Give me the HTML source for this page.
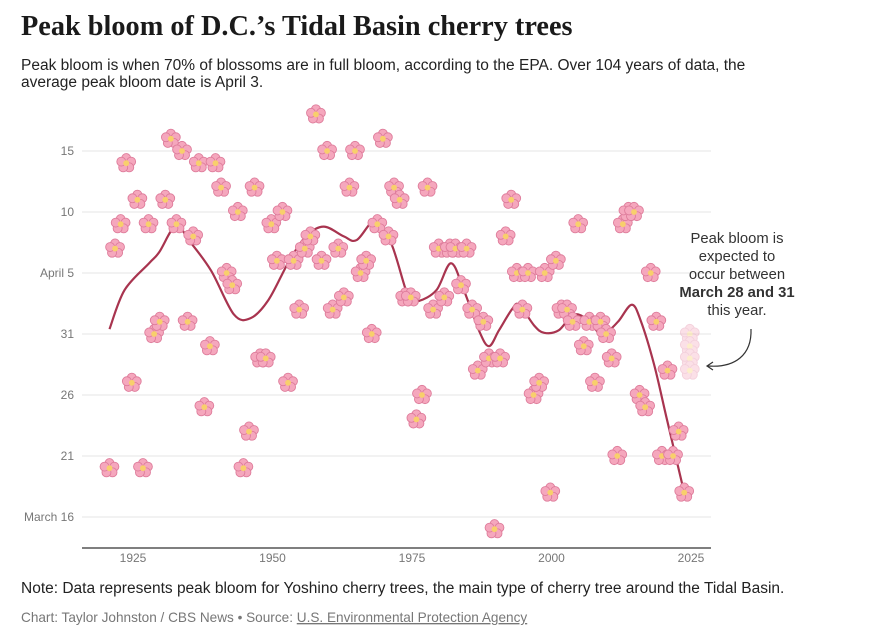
<!DOCTYPE html>
<html><head><meta charset="utf-8">
<style>
body{margin:0;background:#fff;width:875px;height:638px;overflow:hidden;font-family:"Liberation Sans",sans-serif;}
svg text{font-family:"Liberation Sans",sans-serif;}
</style></head>
<body>
<svg id="chart" width="875" height="638" viewBox="0 0 875 638">
<defs>
<g id="flower" transform="scale(1.12)">
<circle cx="0" cy="-4.6" r="4" fill="#f5a7bd" stroke="#de7c9b" stroke-width="0.8"/>
<circle cx="4.4" cy="-1.4" r="4" fill="#f5a7bd" stroke="#de7c9b" stroke-width="0.8"/>
<circle cx="2.7" cy="3.7" r="4" fill="#f5a7bd" stroke="#de7c9b" stroke-width="0.8"/>
<circle cx="-2.7" cy="3.7" r="4" fill="#f5a7bd" stroke="#de7c9b" stroke-width="0.8"/>
<circle cx="-4.4" cy="-1.4" r="4" fill="#f5a7bd" stroke="#de7c9b" stroke-width="0.8"/>
<circle cx="0" cy="0" r="2.6" fill="#f8cf6c"/>
</g>
</defs>
<text x="21" y="35" font-weight="bold" font-size="28.3" fill="#1a1a1a" style="font-family:'Liberation Serif',serif">Peak bloom of D.C.’s Tidal Basin cherry trees</text>
<text x="21" y="70" font-size="15.5" fill="#222">Peak bloom is when 70% of blossoms are in full bloom, according to the EPA. Over 104 years of data, the</text>
<text x="21" y="87" font-size="15.5" fill="#222">average peak bloom date is April 3.</text>
<g id="grid"></g>
<g id="yticks"></g>
<g id="xticks"></g>
<path id="trend" fill="none" stroke="#a8344f" stroke-width="2.2"/>
<g id="points"></g>
<g id="forecast" opacity="0.35"></g>
<g font-size="14.8" fill="#333" text-anchor="middle">
<text x="737" y="243">Peak bloom is</text>
<text x="737" y="261">expected to</text>
<text x="737" y="279">occur between</text>
<text x="737" y="297" font-weight="bold">March 28 and 31</text>
<text x="737" y="315">this year.</text>
</g>
<path d="M751,329 C752,355 735,368 708,366" fill="none" stroke="#333" stroke-width="1.2"/>
<path d="M713,362 L707,366 L713,370" fill="none" stroke="#333" stroke-width="1.2"/>
<text x="21" y="593" font-size="15.5" fill="#222">Note: Data represents peak bloom for Yoshino cherry trees, the main type of cherry tree around the Tidal Basin.</text>
<text x="21" y="622" font-size="13.6" fill="#777">Chart: Taylor Johnston / CBS News • Source: <tspan text-decoration="underline">U.S. Environmental Protection Agency</tspan></text>
</svg>
<script>
const bloomDays = [-12,6,8,13,-5,10,-12,8,-1,0,10,15,8,14,0,7,13,-7,-2,13,11,4,3,9,-12,-9,11,-3,-3,8,5,9,-5,5,1,6,7,17,5,14,1,6,2,11,14,4,5,-1,8,15,7,11,10,2,2,-8,-6,11,1,6,2,6,6,3,6,1,-4,0,-3,-17,-3,7,10,4,1,4,-6,-5,4,-14,5,1,1,0,8,-2,0,-5,0,-1,-3,-11,8,9,9,-6,-7,4,0,-11,-4,-11,-9,-14];
const firstYear = 1921;
const trendYears = [1921,1923.7,1928.1,1929.9,1932.9,1935.2,1939.2,1943.3,1946.3,1949.5,1953.1,1956.2,1959.4,1963.0,1965.3,1968.7,1971.6,1974.6,1976.4,1979.6,1982.2,1984.5,1987.2,1989.0,1990.8,1993.1,1994.4,1997.1,1998.9,2001.5,2004.2,2006.9,2008.7,2010.5,2012.3,2014.6,2016.2,2018.6,2020.9,2024];
const trendDays = [-0.6,2.6,4.8,5.7,7.9,6.7,4.2,0.6,0.3,1.8,4.9,7.0,7.8,7.0,6.7,8.3,6.3,2.0,1.7,2.6,4.8,2.6,-0.7,-2.0,-0.7,1.0,1.4,-0.3,-0.9,-0.7,0.6,0.1,-0.9,-0.7,0.1,1.4,0.1,-3.5,-8.0,-14.0];
const forecastYear = 2025;
const forecastDays = [-1,-2,-3,-4];
const yTickDays = [14,9,4,-1,-6,-11,-16];
const yTickLabels = ["15","10","April 5","31","26","21","March 16"];
const xTicks = [1925,1950,1975,2000,2025];

const NS = "http://www.w3.org/2000/svg";
const xS = yr => 133 + (yr - 1925) * 5.58 - 1.2;
const yS = d => 334 - (d + 1) * 12.2;
const tickX = yr => 133 + (yr - 1925) * 5.58;

const grid = document.getElementById('grid');
const yt = document.getElementById('yticks');
yTickDays.forEach((d, i) => {
  const l = document.createElementNS(NS, 'line');
  l.setAttribute('x1', 82); l.setAttribute('x2', 711);
  l.setAttribute('y1', yS(d)); l.setAttribute('y2', yS(d));
  l.setAttribute('stroke', '#e6e6e6'); l.setAttribute('stroke-width', 1);
  
  
  grid.appendChild(l);
  const t = document.createElementNS(NS, 'text');
  t.setAttribute('x', 74); t.setAttribute('y', yS(d) + 4);
  t.setAttribute('text-anchor', 'end'); t.setAttribute('font-size', 12); t.setAttribute('fill', '#777');
  t.textContent = yTickLabels[i];
  
  
  yt.appendChild(t);
});
const base = document.createElementNS(NS, 'line');
base.setAttribute('x1', 82); base.setAttribute('x2', 711);
base.setAttribute('y1', 548); base.setAttribute('y2', 548);
base.setAttribute('stroke', '#333'); base.setAttribute('stroke-width', 1.3);


grid.appendChild(base);
const xt = document.getElementById('xticks');
xTicks.forEach(yr => {
  const t = document.createElementNS(NS, 'text');
  t.setAttribute('x', tickX(yr)); t.setAttribute('y', 562);
  t.setAttribute('text-anchor', 'middle'); t.setAttribute('font-size', 12); t.setAttribute('fill', '#777');
  t.textContent = yr;
  
  
  xt.appendChild(t);
});

const P = trendYears.map((y, i) => [xS(y), yS(trendDays[i])]);
let d = `M${P[0][0]},${P[0][1]}`;
for (let i = 0; i < P.length - 1; i++) {
  const p0 = P[Math.max(0, i - 1)], p1 = P[i], p2 = P[i + 1], p3 = P[Math.min(P.length - 1, i + 2)];
  const c1 = [p1[0] + (p2[0] - p0[0]) / 6, p1[1] + (p2[1] - p0[1]) / 6];
  const c2 = [p2[0] - (p3[0] - p1[0]) / 6, p2[1] - (p3[1] - p1[1]) / 6];
  d += ` C${c1[0]},${c1[1]} ${c2[0]},${c2[1]} ${p2[0]},${p2[1]}`;
}
document.getElementById('trend').setAttribute('d', d);

const pts = document.getElementById('points');
bloomDays.forEach((v, i) => {
  const u = document.createElementNS(NS, 'use');
  u.setAttribute('href', '#flower');
  u.setAttribute('transform', `translate(${xS(firstYear + i)},${yS(v)})`);
  
  
  pts.appendChild(u);
});
const fc = document.getElementById('forecast');
forecastDays.forEach(v => {
  const u = document.createElementNS(NS, 'use');
  u.setAttribute('href', '#flower');
  u.setAttribute('transform', `translate(${xS(forecastYear)},${yS(v)})`);
  
  
  fc.appendChild(u);
});
</script>
</body></html>
